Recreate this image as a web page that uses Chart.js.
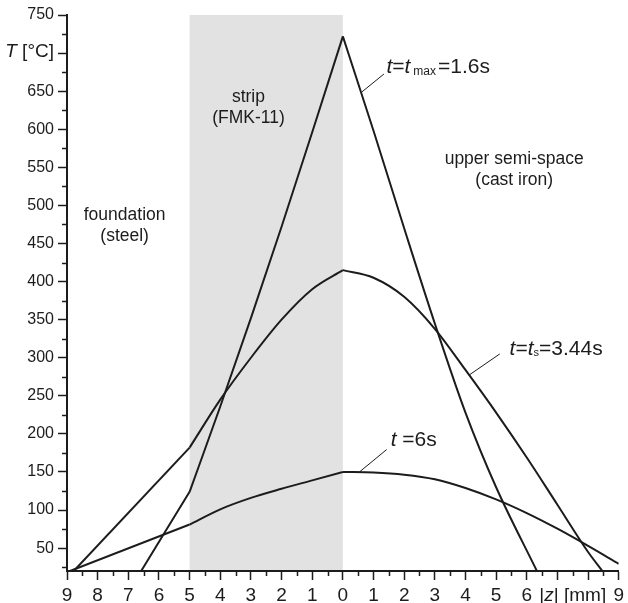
<!DOCTYPE html>
<html><head><meta charset="utf-8">
<script src="https://cdn.jsdelivr.net/npm/chart.js@4.4.1/dist/chart.umd.min.js"></script>
<style>html,body{margin:0;padding:0;background:#fff;}#wrap{width:628px;height:603px;}</style>
</head><body><div id="wrap"><canvas id="c" width="628" height="603"></canvas></div>
<script>
// ---- data ----
const tmaxZ = [-6.58, -5, -4, -3, -2, -1, 0, 1, 2, 3, 4, 5, 6.33];
const tmaxT = [20, 124, 236, 352, 472, 596, 722, 598, 470, 345, 228, 130, 20];
const tsZ = [-8.78, -5, -4, -3, -2, -1, 0, 1, 2, 3, 4, 5, 6, 7, 8, 8.47];
const tsT = [20, 182, 245, 300, 350, 390, 415, 405, 380, 338, 284, 228, 169, 107, 45, 20];
const t6Z = [-8.9, -5, -4, -3, -2, -1, 0, 1, 2, 3, 4, 5, 6, 7, 8, 9];
const t6T = [20, 81, 101, 116, 128, 139, 150, 149.3, 146.5, 140.5, 129, 114, 96, 75.5, 53, 29.5];
const kinkZ = [-5, 0];
const stripZ = [-5, 0];
const xTickValues = [-9,-8,-7,-6,-5,-4,-3,-2,-1,0,1,2,3,4,5,6,7,8,9];
const xMinorValues = [-8.5,-7.5,-6.5,-5.5,-4.5,-3.5,-2.5,-1.5,-0.5,0.5,1.5,2.5,3.5,4.5,5.5,6.5,7.5,8.5];
const yTickValues = [50,100,150,200,250,300,350,400,450,500,550,600,650,700,750];
const yMinorValues = [25,75,125,175,225,275,325,375,425,475,525,575,625,675,725];
const yAxisTitleAt = 700;
const xAxisTitleAt = 7.5;
const hiddenXLabels = [7, 8];

const FONT = '"Liberation Sans", Arial, Helvetica, sans-serif';
const INK = '#1c1c1c';

function splitAtKinks(zs, ts) {
  const pieces = []; let cur = [];
  zs.forEach((z, i) => {
    cur.push({x: z, y: ts[i]});
    if (kinkZ.includes(z) && cur.length > 1) { pieces.push(cur); cur = [{x: z, y: ts[i]}]; }
  });
  if (cur.length > 1) pieces.push(cur);
  return pieces;
}
const datasets = [];
[[tmaxZ, tmaxT], [tsZ, tsT], [t6Z, t6T]].forEach(([zs, ts]) => {
  splitAtKinks(zs, ts).forEach(p => datasets.push({
    data: p, borderColor: INK, borderWidth: 2, pointRadius: 0, fill: false,
    cubicInterpolationMode: 'monotone'
  }));
});

// annotation config (data coordinates)
const regionNotes = [
  {lines: ['strip', '(FMK-11)'], at: [-3.08, 636]},
  {lines: ['foundation', '(steel)'], at: [-7.12, 481]},
  {lines: ['upper semi-space', '(cast iron)'], at: [5.59, 554]}
];
const curveNotes = [
  {from: [0.62, 649], to: [1.34, 672.5], at: [1.42, 674],
   parts: [{text:'t',italic:true},{text:'='},{text:'t',italic:true,gap:3},{text:'max',size:12,dy:2,gap:2},{text:'=1.6s'}]},
  {from: [4.11, 277], to: [5.12, 305], at: [5.44, 303.4],
   parts: [{text:'t',italic:true},{text:'='},{text:'t',italic:true},{text:'s',size:11,dy:1},{text:'=3.44s'}]},
  {from: [0.54, 150], to: [1.43, 179.5], at: [1.56, 183.8],
   parts: [{text:'t',italic:true},{text:' =6s'}]}
];

function drawRich(ctx, x, y, parts, base) {
  let cx = x;
  parts.forEach(p => {
    const size = p.size || base;
    ctx.font = (p.italic ? 'italic ' : '') + size + 'px ' + FONT;
    ctx.fillText(p.text, cx, y + (p.dy || 0));
    cx += ctx.measureText(p.text).width + (p.gap || 0);
  });
  return cx - x;
}

const decor = {
  id: 'decor',
  beforeDraw(chart) {
    const {ctx, scales: {x, y}} = chart;
    ctx.save();
    ctx.fillStyle = '#e2e2e2';
    const x0 = x.getPixelForValue(stripZ[0]), x1 = x.getPixelForValue(stripZ[1]);
    const yt = y.getPixelForValue(y.max), yb = y.getPixelForValue(y.min);
    ctx.fillRect(x0, yt, x1 - x0, yb - yt);
    ctx.restore();
  },
  afterDraw(chart) {
    const {ctx, scales: {x, y}, chartArea} = chart;
    ctx.save();
    ctx.strokeStyle = INK; ctx.lineWidth = 1.5;
    // minor ticks
    ctx.beginPath();
    xMinorValues.forEach(v => { const px = Math.round(x.getPixelForValue(v)) + 0.5; ctx.moveTo(px, chartArea.bottom); ctx.lineTo(px, chartArea.bottom + 5); });
    yMinorValues.forEach(v => { const py = Math.round(y.getPixelForValue(v)) + 0.5; ctx.moveTo(chartArea.left, py); ctx.lineTo(chartArea.left - 5, py); });
    ctx.stroke();
    ctx.fillStyle = INK;
    // axis titles
    ctx.textBaseline = 'middle';
    const ty = y.getPixelForValue(yAxisTitleAt) - 1;
    ctx.font = '19px ' + FONT;
    const rest = ' [°C]';
    const wr = ctx.measureText(rest).width;
    ctx.font = 'italic 19px ' + FONT;
    const wt = ctx.measureText('T').width;
    drawRich(ctx, 54 - wr - wt, ty, [{text:'T',italic:true},{text:rest}], 19);
    const xParts = [{text:'|'},{text:'z',italic:true},{text:'| [mm]'}];
    let w = 0;
    xParts.forEach(p => { ctx.font = (p.italic?'italic ':'') + '19px ' + FONT; w += ctx.measureText(p.text).width; });
    drawRich(ctx, x.getPixelForValue(xAxisTitleAt) - w / 2, chartArea.bottom + 24.5, xParts, 19);
    // region notes
    ctx.textBaseline = 'alphabetic'; ctx.textAlign = 'center';
    ctx.font = '17.5px ' + FONT;
    regionNotes.forEach(n => {
      const px = x.getPixelForValue(n.at[0]), py = y.getPixelForValue(n.at[1]);
      n.lines.forEach((l, i) => ctx.fillText(l, px, py + i * 21));
    });
    ctx.textAlign = 'left';
    // curve notes
    ctx.lineWidth = 1;
    curveNotes.forEach(n => {
      ctx.beginPath();
      ctx.moveTo(x.getPixelForValue(n.from[0]), y.getPixelForValue(n.from[1]));
      ctx.lineTo(x.getPixelForValue(n.to[0]), y.getPixelForValue(n.to[1]));
      ctx.stroke();
      drawRich(ctx, x.getPixelForValue(n.at[0]), y.getPixelForValue(n.at[1]), n.parts, 21);
    });
    ctx.restore();
  }
};

Chart.defaults.font.family = FONT;
Chart.defaults.color = INK;

new Chart(document.getElementById('c'), {
  type: 'line',
  data: {datasets},
  plugins: [decor],
  options: {
    responsive: false, animation: false, devicePixelRatio: 1,
    layout: {padding: {top: 15, right: 5, left: 0, bottom: 0}},
    plugins: {legend: {display: false}, tooltip: {enabled: false}},
    scales: {
      x: {
        type: 'linear', min: -9, max: 9,
        afterBuildTicks: s => { s.ticks = xTickValues.map(v => ({value: v})); },
        afterFit: s => { s.height = 32; },
        ticks: {autoSkip: false, maxRotation: 0, padding: 4, font: {size: 19},
          callback: v => hiddenXLabels.includes(v) ? '' : String(Math.abs(v))},
        grid: {drawOnChartArea: false, drawTicks: true, tickLength: 9, tickColor: INK, tickWidth: 1.5},
        border: {display: true, color: INK, width: 2}
      },
      y: {
        type: 'linear', min: 20, max: 750,
        afterBuildTicks: s => { s.ticks = yTickValues.map(v => ({value: v})); },
        afterFit: s => { s.width = 67; },
        ticks: {autoSkip: false, padding: 4, font: {size: 16},
          callback: v => v === yAxisTitleAt ? '' : String(v)},
        grid: {drawOnChartArea: false, drawTicks: true, tickLength: 9, tickColor: INK, tickWidth: 1.5},
        border: {display: true, color: INK, width: 2}
      }
    }
  }
});
</script></body></html>
